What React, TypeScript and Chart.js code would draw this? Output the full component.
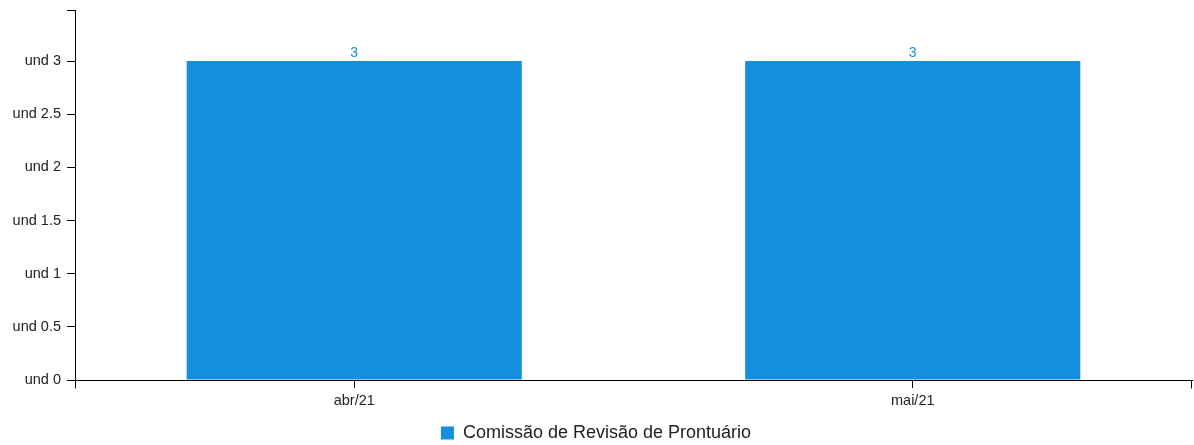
import React, { useEffect, useRef } from "react";
import { Chart, registerables } from "chart.js";

Chart.register(...registerables);

const categories = ["abr/21", "mai/21"];
const seriesName = "Comissão de Revisão de Prontuário";
const seriesValues = [3, 3];
const yMax = 3.48;
const yStep = 0.5;

const BLUE = "#138fdd";
const FONT = "'Liberation Sans', Arial, sans-serif";

const outerTicks = {
  id: "outerTicks",
  afterDraw(chart: any) {
    const { ctx } = chart;
    const x = chart.scales.x;
    const y = chart.scales.y;
    ctx.save();
    ctx.strokeStyle = "#000";
    ctx.lineWidth = 1;
    ctx.beginPath();
    const yb = Math.round(y.bottom) + 0.5;
    ctx.moveTo(Math.round(x.left) + 0.5, yb);
    ctx.lineTo(Math.round(x.left) + 0.5, yb + 8);
    ctx.moveTo(Math.round(x.right) - 0.5, yb);
    ctx.lineTo(Math.round(x.right) - 0.5, yb + 8);
    ctx.stroke();
    ctx.restore();
  },
};

const valueLabels = {
  id: "valueLabels",
  afterDatasetsDraw(chart: any) {
    const { ctx } = chart;
    chart.data.datasets.forEach((ds: any, i: number) => {
      const meta = chart.getDatasetMeta(i);
      meta.data.forEach((el: any, j: number) => {
        ctx.save();
        ctx.fillStyle = BLUE;
        ctx.font = `14px ${FONT}`;
        ctx.textAlign = "center";
        ctx.textBaseline = "alphabetic";
        ctx.fillText(String(ds.data[j]), el.x, el.y - 4);
        ctx.restore();
      });
    });
  },
};

export default function App() {
  const ref = useRef<HTMLCanvasElement>(null);
  useEffect(() => {
    document.body.style.margin = "0";
    const chart = new Chart(ref.current!, {
      type: "bar",
      data: {
        labels: categories,
        datasets: [
          {
            label: seriesName,
            data: seriesValues,
            backgroundColor: BLUE,
            borderWidth: 0,
            categoryPercentage: 1,
            barPercentage: 0.6,
          },
        ],
      },
      plugins: [outerTicks, valueLabels],
      options: {
        animation: false,
        responsive: false,
        maintainAspectRatio: false,
        layout: { padding: { top: 10, right: 2, left: 0, bottom: -7 } },
        plugins: {
          tooltip: { enabled: false },
          legend: {
            position: "bottom",
            labels: {
              boxWidth: 13,
              boxHeight: 13,
              padding: 0,
              color: "#222",
              font: { family: FONT, size: 18 },
            },
          },
        },
        scales: {
          x: {
            offset: true,
            grid: {
              offset: false,
              drawOnChartArea: false,
              drawTicks: true,
              tickLength: 8,
              color: "#000",
            },
            border: { display: true, color: "#000", width: 1 },
            ticks: {
              color: "#222",
              padding: 4,
              font: { family: FONT, size: 14.5 },
              maxRotation: 0,
            },
            afterFit(scale: any) {
              scale.height = 44;
              scale.paddingLeft = 0;
              scale.paddingRight = 0;
            },
          },
          y: {
            min: 0,
            max: yMax,
            grid: {
              drawOnChartArea: false,
              drawTicks: true,
              tickLength: 8,
              color: "#000",
            },
            border: { display: true, color: "#000", width: 1 },
            ticks: {
              stepSize: yStep,
              color: "#222",
              padding: 6,
              font: { family: FONT, size: 14.5 },
              callback: (v: any) =>
                Math.abs(v / yStep - Math.round(v / yStep)) < 1e-6 ? `und ${v}` : "",
            },
            afterFit(scale: any) {
              scale.width = 75;
              scale.paddingTop = 0;
              scale.paddingBottom = 0;
            },
          },
        },
      },
    });
    return () => chart.destroy();
  }, []);
  return <canvas ref={ref} width={1194} height={445} style={{ display: "block" }} />;
}
